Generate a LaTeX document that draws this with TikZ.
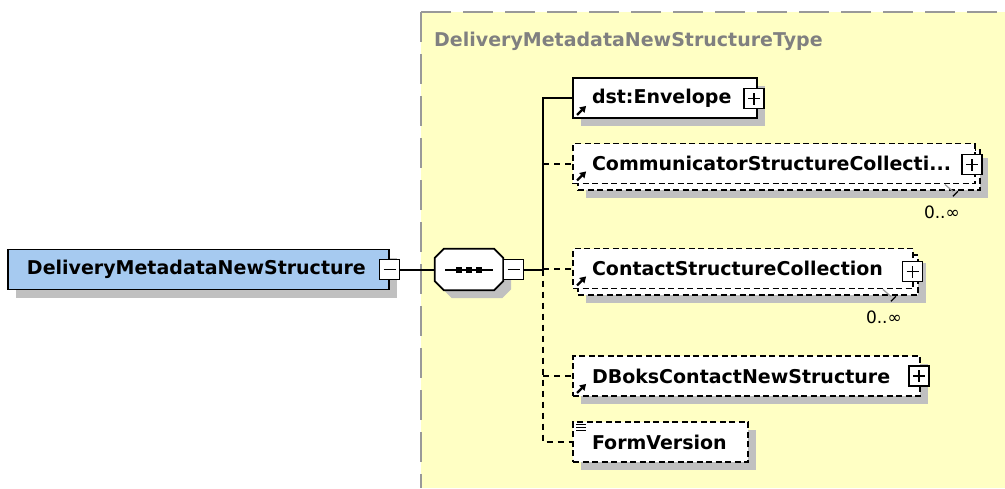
\documentclass[tikz,border=0pt]{standalone}
\usepackage{fontspec}
\setmainfont{DejaVu Sans}
\usetikzlibrary{shadows,arrows.meta}

\definecolor{typefill}{RGB}{255,255,196}
\definecolor{typeline}{RGB}{153,153,153}
\definecolor{typetext}{RGB}{128,128,128}
\definecolor{rootfill}{RGB}{166,202,240}
\definecolor{shadowgray}{RGB}{192,192,192}

% octagon of the compositor: #1 node, #2 offset, #3 path options
\newcommand{\seqoutline}[3]{%
  \path[#3] ([shift={(9+#2,#2)}]#1.north west) -- ([shift={(-9+#2,#2)}]#1.north east)
    -- ([shift={(#2,9+#2)}]#1.north east) -- ([shift={(#2,-9+#2)}]#1.south east)
    -- ([shift={(-9+#2,#2)}]#1.south east) -- ([shift={(9+#2,#2)}]#1.south west)
    -- ([shift={(#2,-9+#2)}]#1.south west) -- ([shift={(#2,9+#2)}]#1.north west) -- cycle;}

\tikzset{
  elem/.style={draw, fill=white, line width=1.8pt, minimum height=40pt, text width=#1,
    inner xsep=19pt, inner ysep=0pt, align=left, font=\fontsize{19}{23}\selectfont\bfseries},
  optional/.style={dash pattern=on 6pt off 3.5pt},
  shade/.style={drop shadow={fill=shadowgray, opacity=1, shadow xshift=8pt, shadow yshift=-8pt}},
  pmbox/.style={draw, fill=white, line width=1.8pt, minimum size=20pt, inner sep=0pt},
  minusbox/.style={pmbox, path picture={
    \draw[line width=1.8pt] ([shift={(-6,0)}]path picture bounding box.center) -- ([shift={(6,0)}]path picture bounding box.center);}},
  plusbox/.style={pmbox, path picture={
    \draw[line width=1.8pt] ([shift={(-6,0)}]path picture bounding box.center) -- ([shift={(6,0)}]path picture bounding box.center);
    \draw[line width=1.8pt] ([shift={(0,-6)}]path picture bounding box.center) -- ([shift={(0,6)}]path picture bounding box.center);}},
  link/.style={line width=2pt},
  optlink/.style={link, dash pattern=on 6pt off 5pt},
  refarrow/.style={line width=2.4pt, -{Triangle[length=6pt,width=7pt]}},
  mult/.style={anchor=east, inner sep=0pt, font=\fontsize{17}{20}\selectfont},
}

\begin{document}
\begin{tikzpicture}[x=1pt,y=1pt,yscale=-1,xscale=1]
\useasboundingbox (0,0) rectangle (1005,488);

% Type area
\fill[typefill] (421,12) rectangle (1005,488);
\draw[typeline, line width=2pt, dash pattern=on 30pt off 12pt] (421,12) -- (1005,12);
\draw[typeline, line width=2pt, dash pattern=on 30pt off 12pt] (421,12) -- (421,488);

% Text Node
\node (typename) [anchor=base west, inner sep=0pt, text=typetext, font=\fontsize{19}{23}\selectfont\bfseries] at (434,46) {DeliveryMetadataNewStructureType};

% Root element
\node (root) [elem=343pt, fill=rootfill, shade] at (198.5,269.5) {DeliveryMetadataNewStructure};
\node (rootminus) [minusbox] at (389.5,269.5) {};

% Sequence compositor
\node (seq) [minimum width=68pt, minimum height=41pt, inner sep=0pt] at (469,269.5) {};
\seqoutline{seq}{8}{fill=shadowgray}
\seqoutline{seq}{0}{draw, fill=white, line width=1.8pt}
\draw[link] ([shift={(-24,0)}]seq.center) -- ([shift={(24,0)}]seq.center);
\foreach \dx in {-10,0,10}
  \fill ([shift={(\dx-3,-3)}]seq.center) rectangle +(6,6);
\node (seqminus) [minusbox] at (513.5,269.5) {};
\coordinate (fork) at (543,269.5);

% Child elements
\node (env) [elem=146pt, shade] at (665,98) {dst:Envelope};
\node (envplus) [plusbox] at (754,98.5) {};

\node (commback) [elem=364pt, optional, shade] at (779,170) {};
\node (comm) [elem=364pt, optional] at (774,163.5) {CommunicatorStructureCollecti...};
\node (commplus) [plusbox] at (972,164.5) {};
\node (commmult) [mult] at (960,212) {0..∞};

\node (contback) [elem=302pt, optional, shade] at (748,275) {};
\node (cont) [elem=302pt, optional] at (743,268.5) {ContactStructureCollection};
\node (contplus) [plusbox] at (912.5,271.5) {};
\node (contmult) [mult] at (902,317) {0..∞};

\node (dbok) [elem=309pt, optional, shade] at (746.5,376) {DBoksContactNewStructure};
\node (dbokplus) [plusbox] at (919,376) {};

\node (form) [elem=137pt, optional, shade] at (660.5,442) {FormVersion};

% Icons
\foreach \n in {env,comm,cont,dbok}
  \draw[refarrow] ([shift={(5,-4)}]\n.south west) -- +(9,-9);
\foreach \dy in {3.5,6.5,9.5}
  \draw[line width=1.2pt] ([shift={(4,\dy)}]form.north west) -- +(10,0);
\foreach \n in {comm,cont} {
  \draw[line width=1.2pt, black!40] ([shift={(-31,0)}]\n.south east) -- +(8,7);
  \draw[line width=1.2pt] ([shift={(-23,12)}]\n.south east) -- +(5,-5);
}

% Connectors
\draw[link] (rootminus) -- (seq);
\draw[link] (seqminus) -- (fork);
\draw[link] (fork) |- (env);
\draw[optlink] (fork |- comm.west) -- (comm);
\draw[optlink] (fork |- cont.west) -- (cont);
\draw[optlink] (fork |- dbok.west) -- (dbok);
\draw[optlink] (fork) |- (form);

\end{tikzpicture}
\end{document}
